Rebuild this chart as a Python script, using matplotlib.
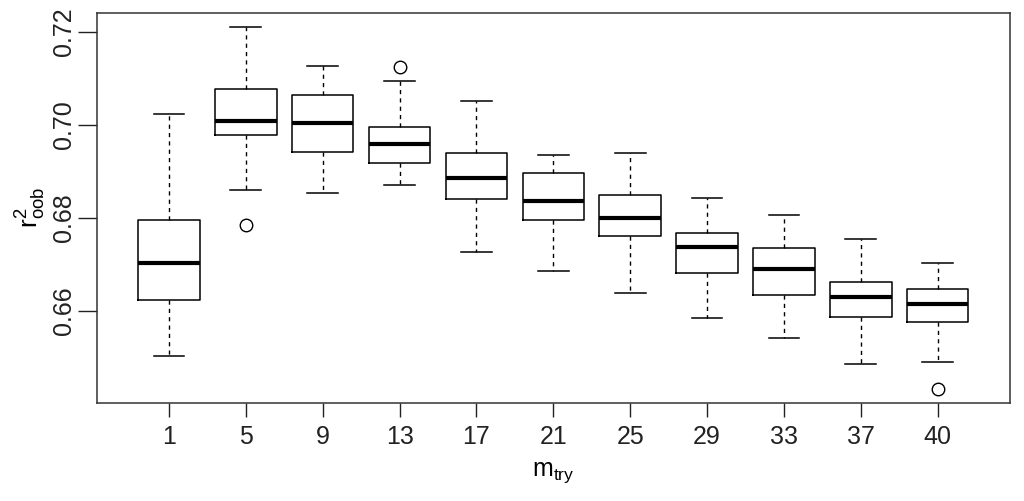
import matplotlib
matplotlib.use("Agg")
import matplotlib.pyplot as plt

plt.rcParams['font.family'] = ['Liberation Sans', 'DejaVu Sans']
plt.rcParams['mathtext.fontset'] = 'custom'
plt.rcParams['mathtext.rm'] = 'Liberation Sans'
plt.rcParams['mathtext.it'] = 'Liberation Sans'

# mtry values and box stats
mtry = ['1', '5', '9', '13', '17', '21', '25', '29', '33', '37', '40']
whislo = [0.6504, 0.6861, 0.6854, 0.6872, 0.6726, 0.6685, 0.6639, 0.6584, 0.6541, 0.6485, 0.6490]
q1 = [0.6624, 0.6979, 0.6941, 0.6919, 0.6841, 0.6795, 0.6762, 0.6681, 0.6635, 0.6588, 0.6576]
med = [0.6703, 0.7009, 0.7005, 0.6960, 0.6886, 0.6837, 0.6800, 0.6738, 0.6690, 0.6631, 0.6615]
q3 = [0.6796, 0.7077, 0.7065, 0.6996, 0.6939, 0.6897, 0.6850, 0.6767, 0.6735, 0.6662, 0.6647]
whishi = [0.7023, 0.7211, 0.7126, 0.7095, 0.7051, 0.6935, 0.6940, 0.6842, 0.6806, 0.6754, 0.6703]
outliers = [[], [0.6786], [], [0.7125], [], [], [], [], [], [], [0.6433]]

stats = []
for i in range(len(mtry)):
    stats.append(dict(label=mtry[i], whislo=whislo[i], q1=q1[i], med=med[i],
                      q3=q3[i], whishi=whishi[i], fliers=outliers[i]))

fig = plt.figure(figsize=(10.24, 5.01), dpi=100)
ax = fig.add_axes([0.0944, 0.1956, 0.9863 - 0.0944, 0.9747 - 0.1956])

ax.bxp(stats, positions=range(1, len(mtry) + 1), widths=0.8,
       boxprops=dict(color='black', linewidth=1.1),
       medianprops=dict(color='black', linewidth=3.0, solid_capstyle='butt'),
       whiskerprops=dict(color='black', linewidth=1.0, linestyle=(0, (3, 3))),
       capprops=dict(color='black', linewidth=1.1),
       flierprops=dict(marker='o', markerfacecolor='none', markeredgecolor='black',
                       markersize=9, markeredgewidth=1.0),
       capwidths=0.4)

ax.set_xlim(0.06, 11.94)
ax.set_ylim(0.64022, 0.72415)
ax.set_yticks([0.66, 0.68, 0.70, 0.72])
ax.set_yticklabels(['0.66', '0.68', '0.70', '0.72'], rotation=90, va='center')
ax.set_xticks(range(1, len(mtry) + 1))
ax.set_xticklabels(mtry)

ax.tick_params(axis='y', length=14, width=1, pad=1, labelsize=18, colors='#222222')
ax.tick_params(axis='x', length=10, width=1, pad=6, labelsize=18, colors='#222222')
for s in ax.spines.values():
    s.set_color('#333333')
    s.set_linewidth(1.1)

ax.set_xlabel(r'm$_{\mathrm{try}}$', fontsize=18, labelpad=8)
ax.set_ylabel(r'r$^{2}_{\mathrm{oob}}$', fontsize=19, labelpad=3)

fig.savefig('out.png', dpi=100)
